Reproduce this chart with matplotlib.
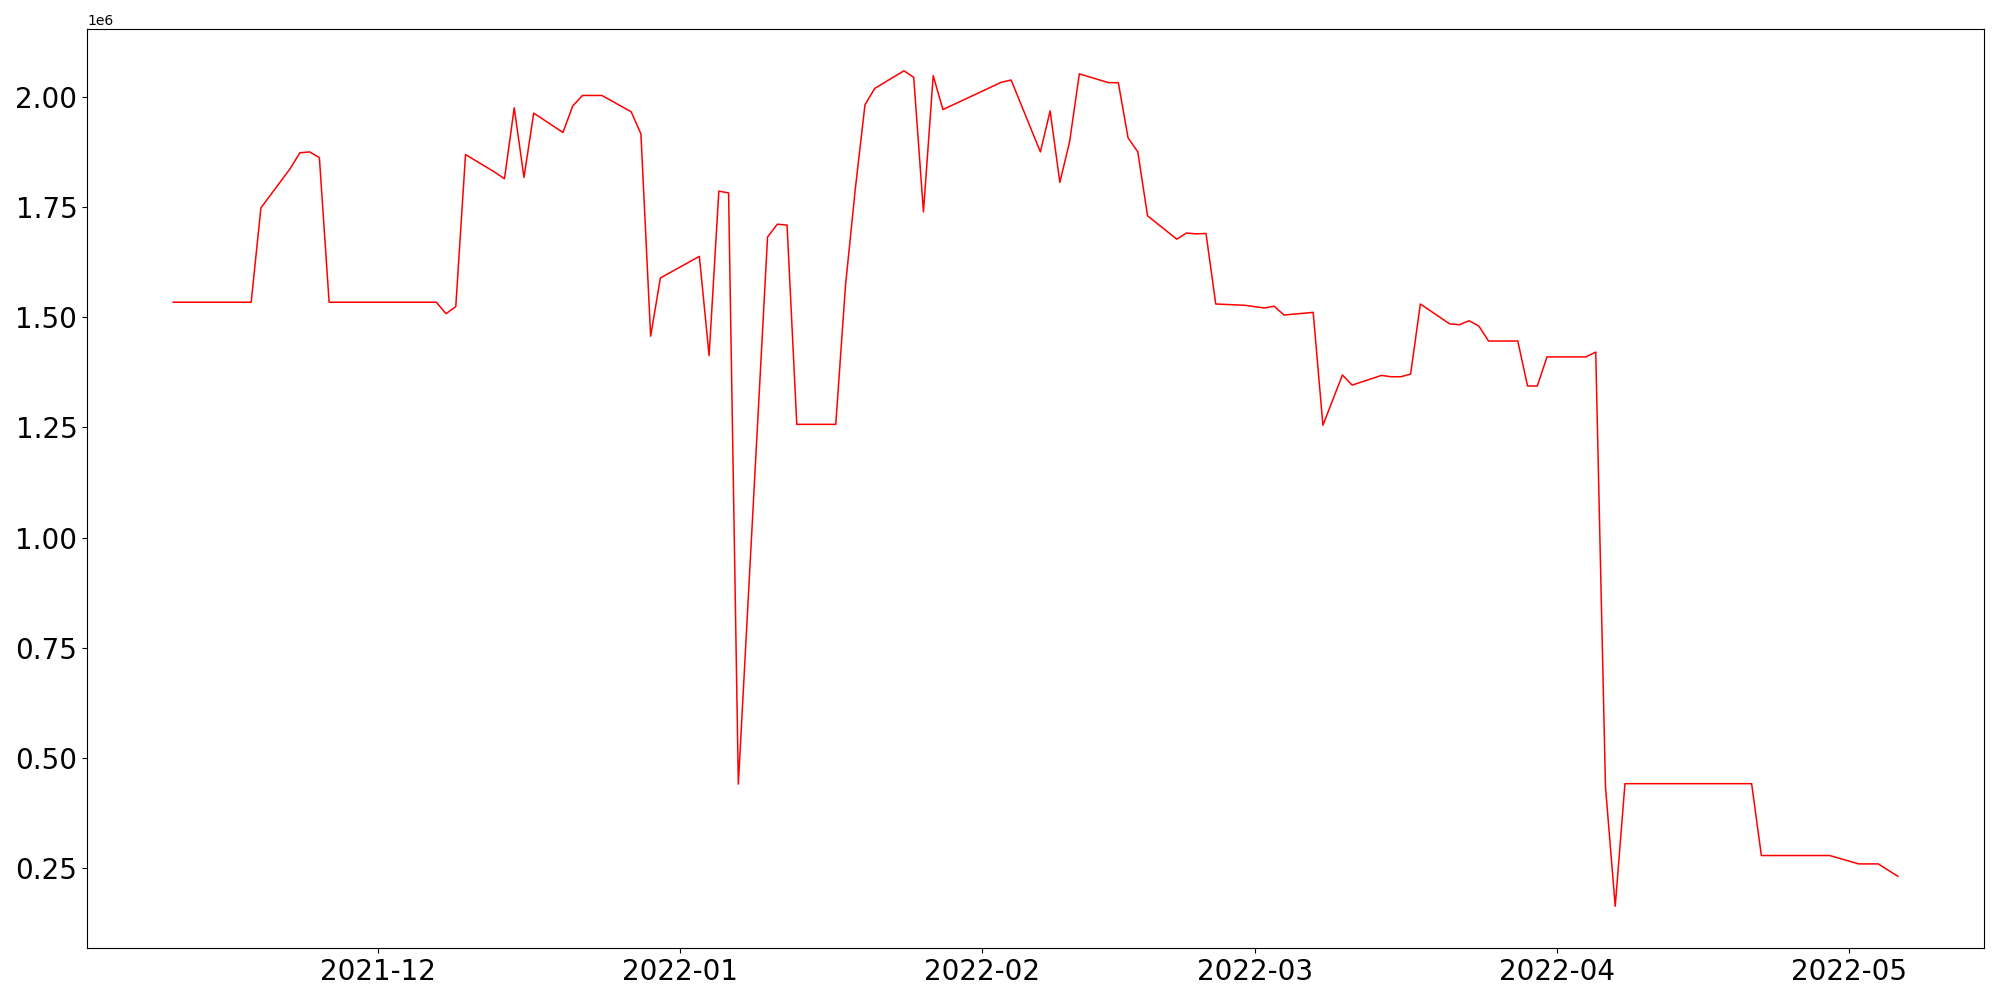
import matplotlib
matplotlib.use('Agg')
import matplotlib.pyplot as plt
import numpy as np
import pandas as pd

# --- data: business-day series (only the vertices of the line), values in millions ---
dates = [
    '2021-11-10', '2021-11-18', '2021-11-19', '2021-11-22', '2021-11-23', '2021-11-24',
    '2021-11-25', '2021-11-26', '2021-12-07', '2021-12-08', '2021-12-09', '2021-12-10',
    '2021-12-13', '2021-12-14', '2021-12-15', '2021-12-16', '2021-12-17', '2021-12-20',
    '2021-12-21', '2021-12-22', '2021-12-23', '2021-12-24', '2021-12-27', '2021-12-28',
    '2021-12-29', '2021-12-30', '2022-01-03', '2022-01-04', '2022-01-05', '2022-01-06',
    '2022-01-07', '2022-01-10', '2022-01-11', '2022-01-12', '2022-01-13', '2022-01-17',
    '2022-01-18', '2022-01-19', '2022-01-20', '2022-01-21', '2022-01-24', '2022-01-25',
    '2022-01-26', '2022-01-27', '2022-01-28', '2022-02-03', '2022-02-04', '2022-02-07',
    '2022-02-08', '2022-02-09', '2022-02-10', '2022-02-11', '2022-02-14', '2022-02-15',
    '2022-02-16', '2022-02-17', '2022-02-18', '2022-02-21', '2022-02-22', '2022-02-23',
    '2022-02-24', '2022-02-25', '2022-02-28', '2022-03-02', '2022-03-03', '2022-03-04',
    '2022-03-07', '2022-03-08', '2022-03-10', '2022-03-11', '2022-03-14', '2022-03-15',
    '2022-03-16', '2022-03-17', '2022-03-18', '2022-03-21', '2022-03-22', '2022-03-23',
    '2022-03-24', '2022-03-25', '2022-03-28', '2022-03-29', '2022-03-30', '2022-03-31',
    '2022-04-04', '2022-04-05', '2022-04-06', '2022-04-07', '2022-04-08', '2022-04-21',
    '2022-04-22', '2022-04-29', '2022-05-02', '2022-05-04', '2022-05-06',
]
values_m = [
    1.534, 1.534, 1.748, 1.837, 1.873, 1.875,
    1.862, 1.534, 1.534, 1.508, 1.524, 1.869,
    1.829, 1.814, 1.975, 1.817, 1.963, 1.919,
    1.979, 2.003, 2.003, 2.003, 1.966, 1.916,
    1.457, 1.589, 1.638, 1.413, 1.786, 1.782,
    0.441, 1.682, 1.711, 1.709, 1.257, 1.257,
    1.572, 1.790, 1.982, 2.019, 2.059, 2.044,
    1.739, 2.048, 1.971, 2.033, 2.038, 1.875,
    1.968, 1.806, 1.898, 2.052, 2.032, 2.032,
    1.907, 1.875, 1.730, 1.677, 1.691, 1.689,
    1.690, 1.530, 1.527, 1.521, 1.525, 1.505,
    1.511, 1.255, 1.369, 1.346, 1.368, 1.365,
    1.365, 1.371, 1.530, 1.485, 1.483, 1.492,
    1.480, 1.446, 1.446, 1.344, 1.344, 1.410,
    1.410, 1.421, 0.435, 0.164, 0.442, 0.442,
    0.279, 0.279, 0.260, 0.260, 0.232,
]

x = pd.to_datetime(dates)
y = np.array(values_m) * 1e6

fig, ax = plt.subplots(figsize=(20, 10), dpi=100)
ax.plot(x, y, color='red', linewidth=1.1)

ax.tick_params(axis='both', labelsize=20)

plt.subplots_adjust(left=0.0435, right=0.992, top=0.971, bottom=0.052)
plt.savefig('out.png', dpi=100)
